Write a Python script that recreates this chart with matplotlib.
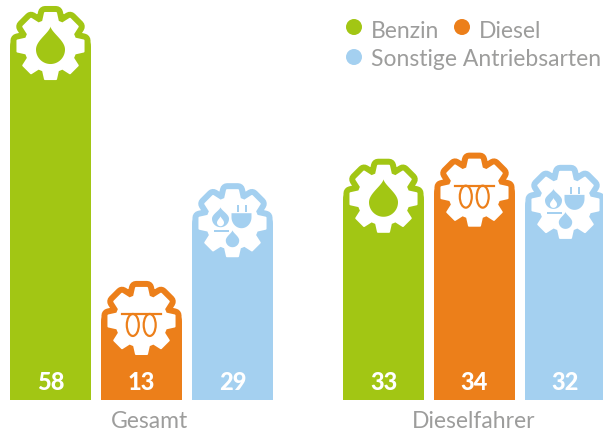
import numpy as np
import matplotlib
matplotlib.use('Agg')
import matplotlib.pyplot as plt
from matplotlib.patches import Polygon, Circle, Ellipse, Rectangle, FancyBboxPatch

groups = ['Gesamt', 'Dieselfahrer']
series = ['Benzin', 'Diesel', 'Sonstige Antriebsarten']
colors = ['#a2c614', '#ec7f1a', '#a4d0f0']
values = [[58, 13, 29], [33, 34, 32]]
gray = '#9d9d9c'

W, H = 603, 435
BASE = 401
ZERO = 391.4
SCALE = 6.11
BAR_W = 81
STARTS = [[10, 101, 192], [343, 434, 525]]
LABEL_X = [150, 474]


def gear(cx, cy, tip=33.5, valley=25.5):
    pts = []
    for k in range(8):
        t = k * np.pi / 4
        for r, a in [(valley, -17), (tip, -9.5), (tip, 9.5), (valley, 17)]:
            pts.append((cx + r * np.sin(t + np.radians(a)), cy - r * np.cos(t + np.radians(a))))
    return pts


def drop(cx, top, bottom, half):
    # teardrop outline, half width taken from top to bottom
    cy = bottom - half
    ys = np.concatenate([np.linspace(top, cy, 30), cy + half * np.sin(np.linspace(0, np.pi / 2, 30))[1:]])
    w = []
    for y in ys:
        if y <= cy:
            w.append(half * np.sin(np.pi / 2 * (y - top) / (cy - top)) ** 1.5)
        else:
            w.append(np.sqrt(max(half ** 2 - (y - cy) ** 2, 0)))
    w = np.array(w)
    return list(zip(cx + w, ys)) + list(zip(cx - w[::-1], ys[::-1]))


def icon_benzin(p, cx, cy, c):
    p.add_patch(Polygon(drop(cx, cy - 19.5, cy + 18, 14.5), fc=c, ec='none', zorder=5))


def icon_diesel(p, cx, cy, c):
    lw = 2.2 * 0.72
    p.plot([cx - 20, cx + 19], [cy - 7, cy - 7], color=c, lw=lw, zorder=5)
    for dx in (-8.7, 8.2):
        p.add_patch(Ellipse((cx + dx, cy + 4), 12, 22, fc='none', ec=c, lw=lw, zorder=5))


def icon_other(p, cx, cy, c):
    # flame
    p.add_patch(Polygon(drop(cx - 12, cy - 16, cy + 4, 8.5), fc=c, ec='none', zorder=5))
    p.add_patch(Polygon(drop(cx - 12, cy - 7, cy + 3, 3.5), fc='white', ec='none', zorder=6))
    p.add_patch(Rectangle((cx - 19, cy + 7), 15, 2.2, fc=c, ec='none', zorder=5))
    # plug
    a = np.linspace(0, 180, 30)
    plug = [(cx + 9 + 10 * np.cos(np.radians(x)), cy - 6 + 11 * np.sin(np.radians(x))) for x in a]
    plug = [(cx - 1, cy - 10), (cx + 19, cy - 10)] + plug
    p.add_patch(Polygon(plug, fc=c, ec='none', zorder=5))
    for dx in (5, 13.5):
        p.add_patch(Rectangle((cx + dx - 1, cy - 18), 2, 7, fc=c, ec='none', zorder=5))
    # drop
    p.add_patch(Polygon(drop(cx, cy + 7, cy + 24, 6.7), fc=c, ec='none', zorder=5))


icons = [icon_benzin, icon_diesel, icon_other]

fig = plt.figure(figsize=(W / 100, H / 100), dpi=100)
ax = fig.add_axes([0, 0, 1, 1])
ax.set_xlim(0, W)
ax.set_ylim((ZERO - H) / SCALE, ZERO / SCALE)
ax.axis('off')

# overlay in pixel coordinates for icons and text
px = fig.add_axes([0, 0, 1, 1])
px.set_xlim(0, W)
px.set_ylim(H, 0)
px.axis('off')
px.patch.set_alpha(0)

font = 'Lato'
bottom = (ZERO - BASE) / SCALE
for g, name in enumerate(groups):
    for i, v in enumerate(values[g]):
        x = STARTS[g][i]
        bar = ax.bar(x, v - bottom, bottom=bottom, width=BAR_W, align='edge', color=colors[i])[0]
        clip = FancyBboxPatch((x, bottom - 5), BAR_W, v - bottom + 5, boxstyle='round,pad=0,rounding_size=11',
                              mutation_aspect=1 / SCALE, fc='none', ec='none', transform=ax.transData)
        ax.add_patch(clip)
        bar.set_clip_path(clip)

        cx = x + BAR_W / 2
        top = ZERO - v * SCALE
        cy = top + 10
        pts = gear(cx, cy)
        px.add_patch(Polygon(pts, fc=colors[i], ec=colors[i], lw=14 * 0.72, joinstyle='round', zorder=3))
        px.add_patch(Polygon(pts, fc='white', ec='white', lw=2 * 0.72, joinstyle='round', zorder=4))
        icons[i](px, cx, cy, colors[i])
        px.text(cx, 390, str(v), color='white', fontsize=17, fontweight='black', family=font,
                ha='center', va='baseline', zorder=6)
    px.text(LABEL_X[g], 428, name, color=gray, fontsize=16.5, family=font, ha='center', va='baseline')

px.add_patch(Circle((354, 28), 8, fc=colors[0], ec='none'))
px.add_patch(Circle((462, 28), 8, fc=colors[1], ec='none'))
px.add_patch(Circle((354, 58), 8, fc=colors[2], ec='none'))
px.text(371, 38, series[0], color=gray, fontsize=16.5, family=font, va='baseline')
px.text(479, 38, series[1], color=gray, fontsize=16.5, family=font, va='baseline')
px.text(371, 66, series[2], color=gray, fontsize=16.5, family=font, va='baseline')

fig.savefig('out.png', dpi=100)
